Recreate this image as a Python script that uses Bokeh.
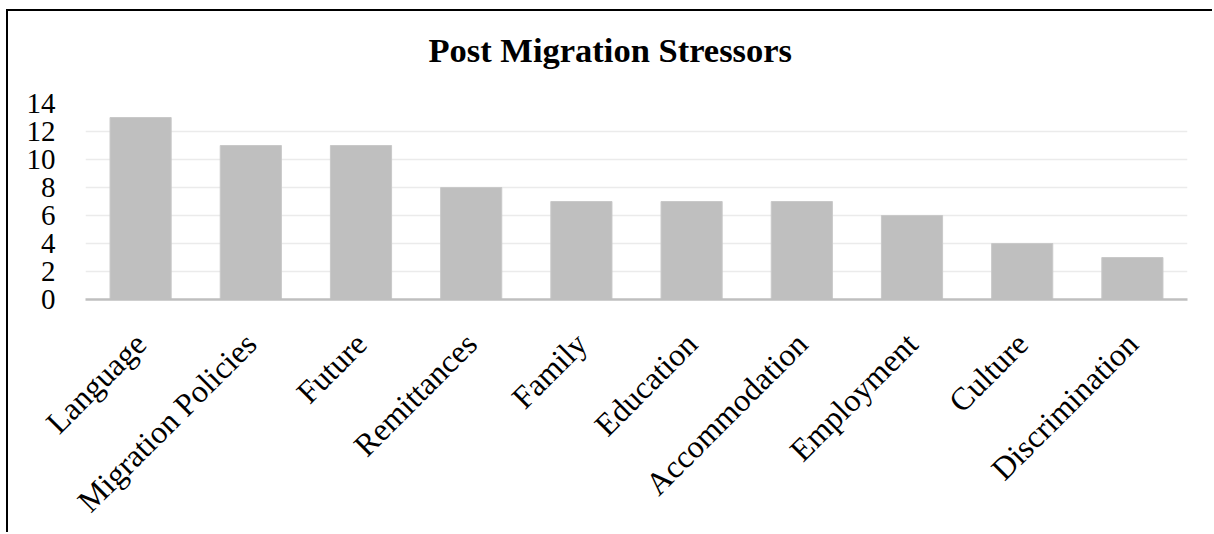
import math
from bokeh.plotting import figure
from bokeh.models import Range1d, SingleIntervalTicker, Title
from bokeh.embed import file_html
from bokeh.resources import INLINE

categories = ["Language", "Migration Policies", "Future", "Remittances", "Family",
              "Education", "Accommodation", "Employment", "Culture", "Discrimination"]
counts = [13, 11, 11, 8, 7, 7, 7, 6, 4, 3]
title_text = "Post Migration Stressors"

FONT = "Liberation Serif"

p = figure(x_range=categories, y_range=Range1d(0, 14), width=1206, height=523,
           output_backend="svg", toolbar_location=None, tools="",
           min_border_left=77, min_border_right=27, min_border_top=92, min_border_bottom=234)

p.vbar(x=categories, top=counts, width=0.555, fill_color="#bfbfbf", line_color="#c9c9c9", line_width=1)

# spacer between frame and title, then the title itself (stacked outward)
spacer = Title(text=" ", text_font_size="1px", standoff=27)
p.add_layout(spacer, "above")
main_title = Title(text=title_text, text_font=FONT, text_font_size="34.5px",
                   text_font_style="bold", text_color="black", align="left",
                   offset=343, standoff=10)
p.add_layout(main_title, "above")

p.outline_line_color = None
p.background_fill_color = "white"
p.border_fill_color = "white"
p.styles = {"border-left": "2px solid black", "border-top": "2px solid black",
            "margin-left": "6px", "margin-top": "9px"}

p.xgrid.grid_line_color = None
p.ygrid.grid_line_color = "#ebebeb"
p.ygrid.grid_line_width = 1.5
p.yaxis.ticker = SingleIntervalTicker(interval=2)
p.yaxis.axis_line_color = None
p.yaxis.major_tick_line_color = None
p.yaxis.minor_tick_line_color = None
p.yaxis.major_label_text_font = FONT
p.yaxis.major_label_text_font_size = "29px"
p.yaxis.major_label_text_color = "black"
p.yaxis.major_label_standoff = 24

p.xaxis.axis_line_color = "#bfbfbf"
p.xaxis.axis_line_width = 2.5
p.xaxis.major_tick_line_color = None
p.xaxis.minor_tick_line_color = None
p.xaxis.major_label_orientation = math.pi / 4
p.xaxis.major_label_text_font = FONT
p.xaxis.major_label_text_font_size = "32px"
p.xaxis.major_label_text_color = "black"
p.xaxis.major_label_standoff = 33

open("out.html", "w").write(file_html(p, INLINE))
